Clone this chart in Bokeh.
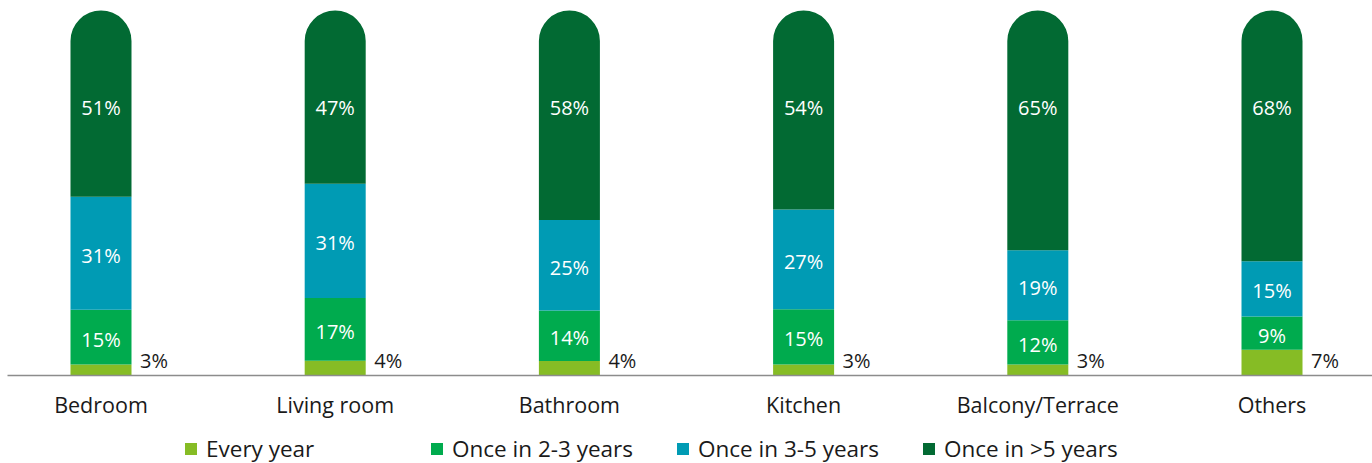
from bokeh.plotting import figure
from bokeh.layouts import column
from bokeh.models import ColumnDataSource, Range1d, Legend, LegendItem, FixedTicker
from bokeh.core.properties import value
from bokeh.embed import file_html
from bokeh.resources import INLINE

categories = ["Bedroom", "Living room", "Bathroom", "Kitchen", "Balcony/Terrace", "Others"]
every_year = [3, 4, 4, 3, 3, 7]
once_2_3 = [15, 17, 14, 15, 12, 9]
once_3_5 = [31, 31, 25, 27, 19, 15]
once_gt5 = [51, 47, 58, 54, 65, 68]
series_names = ["Every year", "Once in 2-3 years", "Once in 3-5 years", "Once in >5 years"]
colors = ["#86BC25", "#00AB4E", "#009BB4", "#026A33"]

FONT = "Open Sans"
series = [every_year, once_2_3, once_3_5, once_gt5]
n = len(categories)
xs = list(range(n))
totals = [sum(s[i] for s in series) for i in range(n)]
TOP_LABEL_LEVEL = 73.4  # labels of the top segment sit at a common height

p = figure(width=1372, height=430, output_backend="svg", toolbar_location=None,
           x_range=Range1d(-0.3992, 5.4291), y_range=Range1d(0, 102.74),
           y_axis_type=None, min_border_left=7, min_border_right=0,
           min_border_top=0, min_border_bottom=55)
p.outline_line_color = None
p.xgrid.visible = False
p.ygrid.visible = False
p.background_fill_color = "white"
p.border_fill_color = "white"

bar_w = 0.2605
bottoms = [0.0] * n
for k, s in enumerate(series):
    norm = [s[i] / totals[i] * 100 for i in range(n)]
    tops = [bottoms[i] + norm[i] for i in range(n)]
    is_top = k == len(series) - 1
    if is_top:
        mids = [TOP_LABEL_LEVEL] * n
    else:
        mids = [(bottoms[i] + tops[i]) / 2 for i in range(n)]
    src = ColumnDataSource(dict(x=xs, bottom=bottoms, top=tops, mid=mids,
                                label=[f"{v}%" for v in s]))
    kw = {}
    if is_top:
        kw["border_radius"] = {"top_left": 31, "top_right": 31, "bottom_right": 0, "bottom_left": 0}
    p.vbar(x="x", bottom="bottom", top="top", width=bar_w, source=src,
           fill_color=colors[k], line_color=None, **kw)
    if k == 0:
        p.text(x="x", y=0, text="label", source=src, x_offset=39, y_offset=-15,
               text_font=value(FONT), text_font_size="20px", text_color="#1a1a1a",
               text_align="left", text_baseline="middle")
    else:
        p.text(x="x", y="mid", text="label", source=src, text_font=value(FONT),
               text_font_size="20px", text_color="white", text_align="center",
               text_baseline="middle", y_offset=0 if is_top else 2)
    bottoms = tops

p.xaxis.ticker = FixedTicker(ticks=xs)
p.xaxis.major_label_overrides = {i: c for i, c in enumerate(categories)}
p.xaxis.major_tick_line_color = None
p.xaxis.minor_tick_line_color = None
p.xaxis.axis_line_color = "#8c8c8c"
p.xaxis.axis_line_width = 1.5
p.xaxis.major_label_text_font = FONT
p.xaxis.major_label_text_font_size = "21.5px"
p.xaxis.major_label_text_color = "#1a1a1a"
p.xaxis.major_label_standoff = 8

# legend strip
lg = figure(width=1372, height=33, output_backend="svg", toolbar_location=None,
            x_range=Range1d(0, 1), y_range=Range1d(0, 1),
            x_axis_type=None, y_axis_type=None,
            min_border_left=0, min_border_right=0, min_border_top=0, min_border_bottom=0)
lg.outline_line_color = None
lg.xgrid.visible = False
lg.ygrid.visible = False
items = []
for k in range(4):
    # swatch-only renderers: zero-height bars that draw nothing in the strip
    r = lg.vbar(x=[0.5], bottom=[0], top=[0], width=0.001, fill_color=colors[k], line_color=None)
    items.append(LegendItem(label=series_names[k], renderers=[r]))

legend = Legend(items=items, orientation="horizontal", location=(176, -1),
                glyph_width=15, glyph_height=15, label_standoff=8, label_width=223,
                spacing=0, padding=0, margin=0,
                border_line_color=None, background_fill_alpha=0,
                label_text_font=FONT, label_text_font_size="22.5px",
                label_text_color="#1a1a1a")
lg.add_layout(legend, "center")

layout = column(p, lg, spacing=0)
open("out.html", "w").write(file_html(layout, INLINE))
